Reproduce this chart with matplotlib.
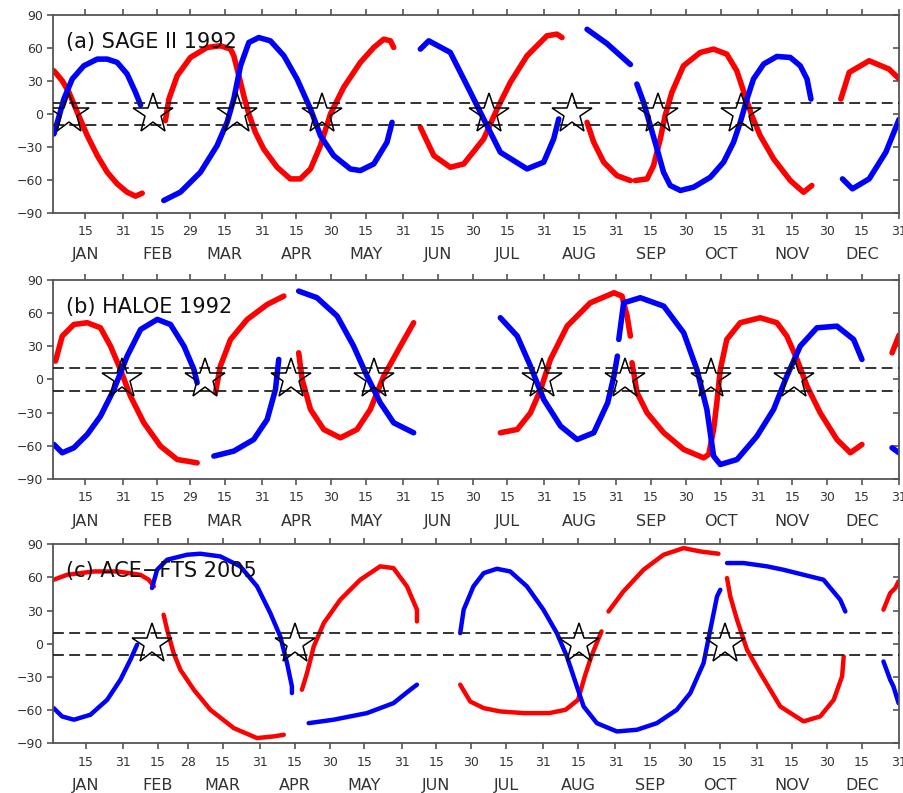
import numpy as np
import matplotlib.pyplot as plt

nan = np.nan

month_names = ['JAN', 'FEB', 'MAR', 'APR', 'MAY', 'JUN',
               'JUL', 'AUG', 'SEP', 'OCT', 'NOV', 'DEC']
month_len_1992 = [31, 29, 31, 30, 31, 30, 31, 31, 30, 31, 30, 31]
month_len_2005 = [31, 28, 31, 30, 31, 30, 31, 31, 30, 31, 30, 31]

# (a) SAGE II 1992  -- day of year / latitude, nan splits the pieces
sage_red_day = [1.4, 5.0, 7.9, 11.5, 15.8, 20.1, 24.4, 28.7, 33.0, 36.6, 39.5, nan,
                49.5, 51.0, 54.6, 60.3, 67.5, 73.3, 77.6, 79.0, 81.2, 83.3, 85.5, 88.3, 91.9,
                97.7, 103.4, 107.7, 112.1, 116.4, 120.7, 126.4, 133.6, 139.4, 143.7, 146.6, 148.0, nan,
                159.5, 165.3, 172.4, 178.2, 186.8, 192.6, 198.3, 205.5, 214.1, 218.4, 220.6, nan,
                231.4, 234.3, 238.6, 244.3, 250.1, nan,
                252.2, 257.3, 260.1, 263.0, 265.1, 268.0, 273.0, 280.2, 286.0, 291.7, 296.0, 299.6,
                302.5, 306.1, 311.9, 319.1, 324.8, 328.4, nan,
                340.9, 344.5, 353.1, 361.7, 366.0]
sage_red_lat = [39.3, 30.2, 19.7, 1.5, -19.7, -37.8, -52.9, -63.5, -71.1, -74.7, -72.0, nan,
                -6, 13.6, 34.8, 51.4, 60.5, 62, 59, 52.9, 34.8, 16.6, 0, -16.6, -31.8,
                -48.4, -59, -59, -49.9, -28.7, 0, 24.2, 46.9, 60.5, 68, 66.5, 60.5, nan,
                -12.1, -37.8, -48.4, -45.4, -22.7, 4.5, 28.7, 52.9, 71.1, 72.6, 69.5, nan,
                -7.6, -25.7, -43.8, -56, -60.5, nan,
                -60.5, -59, -46.9, -22.7, -1.5, 19.7, 43.8, 55.9, 59, 54.4, 39.3, 16.6,
                -1.5, -19.7, -40.8, -60.5, -71.1, -65, nan,
                13.6, 37.8, 48.4, 40.8, 32]
sage_blue_day = [1.4, 3.5, 5.7, 9.3, 14.3, 20.1, 24.4, 28.7, 33.0, 36.6, 38.8, nan,
                 48.8, 56, 64.6, 71.8, 76.1, 79, 81.9, 85.5, 89.8, 94.8, 100.6, 106.3, 112.1,
                 116.4, 122.1, 129.3, 133.6, 139.4, 145.1, 147.3, nan,
                 159.5, 163.1, 172.4, 181.1, 186.8, 194, 205.5, 212.7, 217, 219.2, nan,
                 231.4, 240, 250.1, nan,
                 252.9, 255.8, 258.7, 261.6, 264.4, 267.3, 271.7, 277.4, 284.6, 290.3, 294.6, 297.5,
                 300.4, 303.2, 307.6, 313.3, 319.1, 323.4, 326.3, 328, nan,
                 341.6, 345.9, 353.1, 360.3, 366]
sage_blue_lat = [-18.1, -3, 13.6, 31.8, 43.8, 49.9, 49.9, 46.9, 36.3, 19.7, 8.2, nan,
                 -78.6, -71, -53, -28.7, -7.6, 13.6, 43.8, 65, 69.5, 66.5, 53, 31.8, 4.5,
                 -19.7, -37.8, -50, -51.4, -45.4, -25.7, -7.6, nan,
                 59, 66.5, 56, 19.7, -4.5, -34.8, -49.9, -43.8, -22.7, -4.5, nan,
                 77, 64, 45, nan,
                 27.2, 10.6, -10.6, -31.8, -52.9, -65, -69.5, -66.5, -57.5, -43.8, -25.7, -7.6,
                 13.6, 31.8, 45.4, 52.3, 51.4, 43.8, 31.8, 13.6, nan,
                 -59, -68, -59, -34.8, -5]
sage_star_day = [7.9, 44.2, 80.2, 117.1, 189, 224.9, 261.9, 297.8]

# (b) HALOE 1992
haloe_red_day = [2.1, 5, 10, 15.8, 21.5, 25.8, 30.1, 34.4, 40.2, 47.4, 54.6, 63.2, nan,
                 71.1, 73.2, 77.6, 84.8, 93.4, 100.6, nan,
                 107, 108.5, 112.1, 117.8, 125, 132.2, 137.9, 143.7, 150.9, 156.6, nan,
                 194, 201.3, 207, 211.4, 215.6, 222.8, 232.8, 243, 246.5, 248.7, 250.1, nan,
                 250.8, 253, 257.3, 264.5, 273.1, 281.7, 283.9, 286, 287.4, 288.9, 291.7, 297.5,
                 306.1, 313.3, 317.6, 322, 326.3, 332, 339.2, 345, 350, nan,
                 363, 366]
haloe_red_lat = [16.6, 39.2, 49.7, 51.3, 46.7, 30.2, 9, -15, -39.2, -60.3, -72.4, -75.4, nan,
                 -12, 12, 36.2, 54.3, 67.8, 75.4, nan,
                 24.1, 0, -27.1, -45.2, -52.8, -45.2, -27.1, 3, 30.2, 51.3, nan,
                 -48.2, -45.2, -30.2, -9, 18.1, 48.2, 69.3, 78.4, 75.4, 57.3, 39.2, nan,
                 15.1, -12.1, -30.2, -48.2, -63.3, -70.9, -67.8, -45.2, -21.1, 9, 36.2, 51.3,
                 55.8, 51.3, 39.2, 18.1, -6, -30.2, -54.3, -66.3, -58.8, nan,
                 24.1, 40]
haloe_blue_day = [1.4, 5, 10, 15.8, 21.5, 27.3, 33, 38.8, 46, 51.7, 57.5, 61.8, 63.2, nan,
                  70.4, 79, 87.6, 93.4, 97, 98.4, nan,
                  107, 114.9, 123.6, 130.7, 136.5, 142.2, 148, 156.6, nan,
                  194, 201.3, 207, 212.7, 220, 227.1, 234.3, 240.3, 243, 244.5, nan,
                  245.1, 247.2, 254.4, 264.5, 273.1, 278.8, 283.1, 286, 288.9, 296.1, 304.7,
                  311.9, 317.6, 323.4, 330.6, 339.2, 346.4, 350, nan,
                  363, 366]
haloe_blue_lat = [-58.8, -66.3, -61.8, -49.7, -33.2, -9, 21.1, 45.2, 54.3, 49.7, 30.2, 9, -3, nan,
                  -69.3, -64.8, -54.3, -36.2, -9, 18.1, nan,
                  79.9, 73.9, 57.3, 30.2, 3, -21.1, -39.2, -48.2, nan,
                  55.8, 39.2, 12, -18.1, -42.2, -54.3, -48.2, -21.1, 3, 21.1, nan,
                  36.2, 69.3, 73.9, 66.3, 42.2, 9, -27.1, -69.3, -76.9, -72.4, -51.3,
                  -27.1, 3, 30.2, 46.7, 48.2, 36.2, 18.1, nan,
                  -61.8, -66.3]
haloe_star_day = [30.9, 66.8, 103.7, 139.7, 212, 247.9, 285, 320.5]

# (c) ACE-FTS 2005
ace_red_day = [1.3, 7.1, 18.6, 28.6, 38.6, 42.2, 44.4, nan,
               48.6, 50.1, 52.9, 55.8, 61.6, 68.7, 78.8, 88.8, 95.9, 100.3, nan,
               108.1, 110.3, 113.2, 117.5, 124.6, 133.2, 141.8, 147.5, 153.3, 157.6, 157.6, nan,
               176.2, 180.5, 186.3, 193.4, 203.5, 214.5, 221.5, 226.9, 229.8, 232.6, 235.5, 237.0, nan,
               240, 246.4, 255.1, 263.7, 272.3, 279.4, 287.3, nan,
               291, 292.4, 295.3, 299.6, 305.3, 313.9, 323.9, 331.1, 336.9, 340.5, 341.2, nan,
               358.3, 361.2, 363.4, 364.8]
ace_red_lat = [57.9, 62.4, 65.4, 65.4, 62.4, 57.9, 51.9, nan,
               26.2, 12.7, -8.4, -23.5, -41.6, -59.7, -76.3, -85.3, -83.8, -82.3, nan,
               -41.6, -26.5, -2.4, 18.7, 39.8, 57.9, 70, 68.4, 51.9, 30.8, 20.2, nan,
               -37, -52.2, -58.2, -61.2, -62.7, -62.7, -59.7, -50.7, -29.5, -11.5, 3.6, 11.2, nan,
               29.2, 47.3, 67, 80.5, 86.5, 83.5, 81.4, nan,
               59.4, 42.8, 21.7, -5.4, -26.5, -56.7, -70.2, -65.7, -50.7, -29.5, -11.5, nan,
               30.8, 45.8, 50.4, 56.4]
ace_blue_day = [1.3, 4.9, 10, 17.1, 24.3, 30, 34.3, 37.2, nan,
                43.6, 45.8, 50.1, 58.7, 64.4, 73, 81.6, 88.8, 94.5, 98.8, 101.7, 103.8, 103.8, nan,
                111, 121.7, 136.1, 147.5, 154.7, 157.6, nan,
                176.2, 177.7, 181.9, 186.3, 192, 197.7, 204.9, 212, 217.8, 222.1, 226.4, 229.3,
                235, 243.6, 252.2, 260.8, 269.4, 275.2, 280.9, 283.8, 286.7, 288.1, nan,
                291, 298.1, 308.2, 315.3, 323.9, 332.5, 339.7, 341.9, nan,
                358.3, 361.2, 362.6, 364.8]
ace_blue_lat = [-58.2, -65.7, -68.7, -64.2, -50.7, -32.6, -14.5, -0.9, nan,
                50.4, 66.9, 76, 80.5, 81.4, 79, 70, 51.9, 27.7, 6.6, -17.5, -38.6, -44.6, nan,
                -71.8, -68.7, -62.7, -53.7, -41.6, -37, nan,
                9.6, 30.8, 51.9, 63.9, 67.8, 65.4, 51.9, 30.8, 9.6, -11.5, -38.6, -56.7,
                -71.8, -79.3, -77.8, -71.8, -59.7, -44.6, -17.5, 12.7, 42.8, 48.8, nan,
                73, 73, 70, 66.9, 62.4, 57.9, 39.8, 29.2, nan,
                -16, -32.6, -38.6, -53.7]
ace_star_day = [43.6, 105.3, 227.1, 290.2]

text_col = '#333333'
plt.rcParams['font.family'] = 'DejaVu Sans'

fig = plt.figure(figsize=(9.04, 7.93), dpi=100)

panels = [
    ('(a) SAGE II 1992', month_len_1992, sage_red_day, sage_red_lat,
     sage_blue_day, sage_blue_lat, sage_star_day, [0.0586, 0.7314, 0.9359, 0.2497], 4.0),
    ('(b) HALOE 1992', month_len_1992, haloe_red_day, haloe_red_lat,
     haloe_blue_day, haloe_blue_lat, haloe_star_day, [0.0586, 0.3960, 0.9359, 0.2510], 4.0),
    ('(c) ACE\u2212FTS 2005', month_len_2005, ace_red_day, ace_red_lat,
     ace_blue_day, ace_blue_lat, ace_star_day, [0.0586, 0.0627, 0.9359, 0.2510], 3.2),
]

for title, mlen, rd, rl, bd, bl, stars, rect, lw in panels:
    ax = fig.add_axes(rect)
    ends = np.cumsum(mlen)
    starts = ends - np.array(mlen)
    ndays = ends[-1]

    ax.plot(rd, rl, color='#ff0000', lw=lw, solid_capstyle='round', solid_joinstyle='round', zorder=2)
    ax.plot(bd, bl, color='#0000ff', lw=lw, solid_capstyle='round', solid_joinstyle='round', zorder=2)

    for yy in (10, -10):
        ax.axhline(yy, color='#222222', lw=1.3, linestyle=(0, (6, 3)), zorder=3)

    ax.plot(stars, np.zeros(len(stars)), linestyle='none', marker='*', markersize=30,
            markerfacecolor='none', markeredgecolor='black', markeredgewidth=1.1, zorder=4)

    ax.text(0.015, 0.865, title, transform=ax.transAxes, fontsize=15,
            color='#111111', va='center', ha='left', zorder=5)

    ax.set_xlim(1, ndays)
    ax.set_ylim(-90, 90)

    xt = []
    xl = []
    for s, m in zip(starts, mlen):
        xt += [s + 15, s + m]
        xl += ['15', str(m)]
    ax.set_xticks(xt)
    ax.set_xticklabels(xl)
    ax.set_yticks(np.arange(-90, 91, 30))
    ax.set_yticklabels([str(v).replace('-', '\u2212') for v in range(-90, 91, 30)])

    ax.tick_params(axis='x', which='both', direction='out', length=4, width=1.2,
                   top=True, colors='#555555', labelcolor=text_col, labelsize=9, pad=5)
    ax.tick_params(axis='y', which='both', direction='out', length=4, width=1.2,
                   colors='#555555', labelcolor=text_col, labelsize=9, pad=3)
    ax.tick_params(axis='y', right=True)
    # right side ticks point inwards
    for t in ax.yaxis.get_major_ticks():
        t.tick2line.set_marker(0)
    for sp in ax.spines.values():
        sp.set_color('#555555')
        sp.set_linewidth(1.3)

    for s, name in zip(starts, month_names):
        ax.text(s + 15, -0.212, name, transform=ax.get_xaxis_transform(),
                ha='center', va='center', fontsize=11.5, color=text_col)

fig.savefig('out.png', dpi=100)
